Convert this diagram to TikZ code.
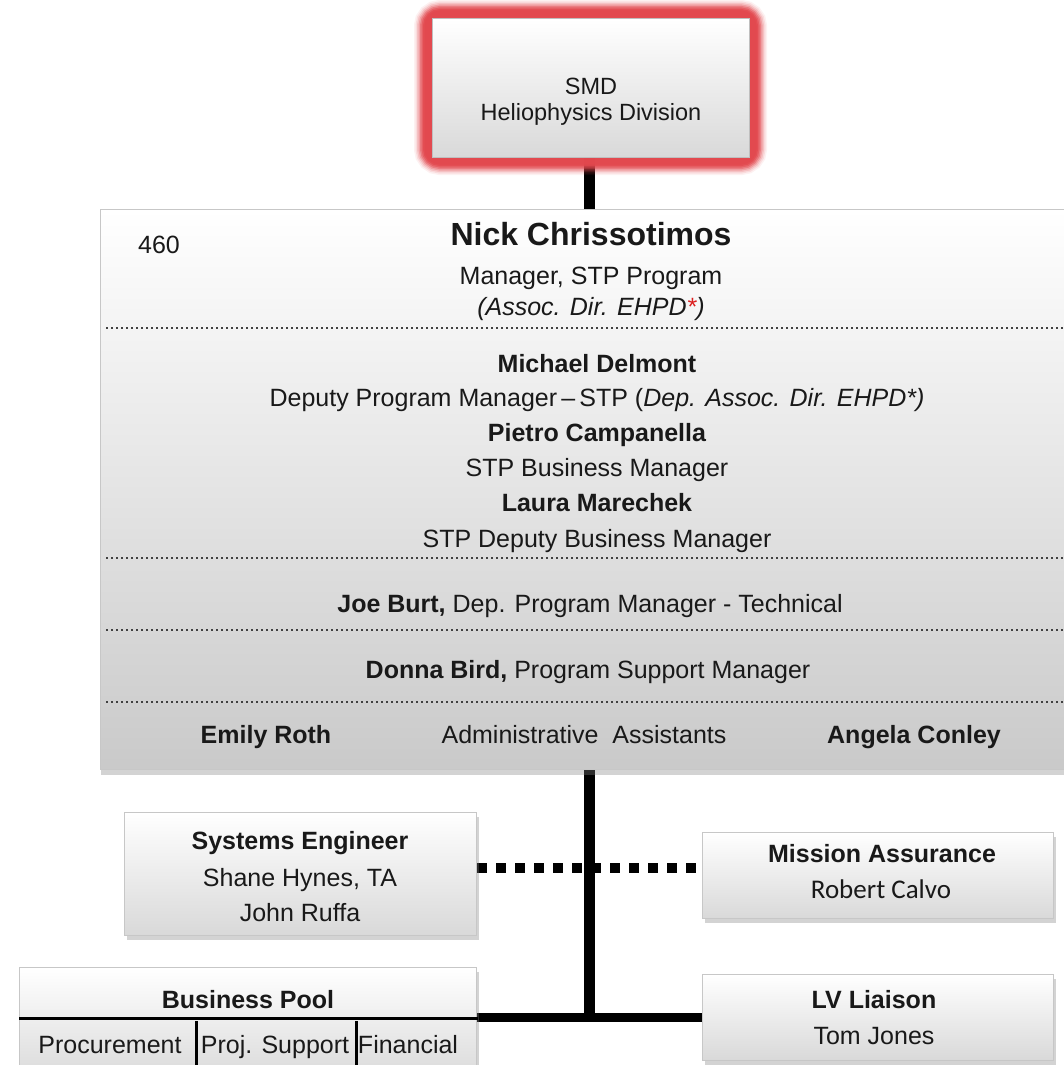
\documentclass[tikz,border=0pt]{standalone}
\usepackage{fontspec}
\setmainfont{Liberation Sans}
\newfontfamily\carl{Carlito}
\usetikzlibrary{shadows,calc}
\pgfdeclarelayer{bg}
\pgfsetlayers{bg,main}
\definecolor{glowred}{RGB}{226,72,78}
\definecolor{astred}{RGB}{220,30,30}
\newcommand\fs{\fontsize{25}{30}\selectfont}
\newcommand\fsbig{\fontsize{32}{38}\selectfont}
\newcommand\fssmd{\fontsize{23.5}{28}\selectfont}
\begin{document}
\begin{tikzpicture}[x=1pt,y=-1pt,
  txt/.style={anchor=base, inner sep=0pt, text=black!90, font=\fs},
  btxt/.style={anchor=base, inner sep=0pt, text=black!90, font=\fs\bfseries},
  bx/.style={draw=black!22, line width=1pt, top color=white, bottom color=black!15,
    anchor=north west, inner sep=0pt,
    drop shadow={shadow xshift=2pt, shadow yshift=-4pt, opacity=0.35}},
  conn/.style={line width=11pt, black},
  hconn/.style={line width=9pt, black},
  dotconn/.style={line width=10pt, black, dash pattern=on 10pt off 9pt},
  sep/.style={line width=2pt, black!75, dash pattern=on 2pt off 3pt}
]
\useasboundingbox (0,0) rectangle (1064,1065);

% ---------- SMD box with red glow ----------
\coordinate (smdnw) at (432,18);
\coordinate (smdse) at (749,157);
\foreach \w/\o in {28/0.08,25/0.12,22/0.18,19/0.28,16/0.4,13/0.55,10/0.75,7/0.9}{
  \draw[glowred, line width=\w pt, draw opacity=\o, rounded corners=12pt]
    ($(smdnw)+(-4,-4)$) rectangle ($(smdse)+(4,4)$);
}
\node[draw=black!25, line width=1pt, top color=white, bottom color=black!15,
      anchor=north west, inner sep=0pt, minimum width=317pt, minimum height=139pt]
      (smd) at (smdnw) {};
\node[txt, font=\fssmd] (smdA) at (591,94) {SMD};
\node[txt, font=\fssmd] (smdB) at (591,120) {Heliophysics Division};

% ---------- main box ----------
\node[draw=black!22, line width=1pt, top color=white, bottom color=black!21,
      anchor=north west, inner sep=0pt, minimum width=990pt, minimum height=560pt,
      drop shadow={shadow xshift=0pt, shadow yshift=-5pt, opacity=0.35}]
      (main) at (100,209) {};
\draw[sep] (106,328) -- (1080,328);
\draw[sep] (106,558) -- (1080,558);
\draw[sep] (106,630) -- (1080,630);
\draw[sep] (106,702) -- (1080,702);

\node[txt] (n460) at (159,253) {460};
\node[btxt, font=\fsbig\bfseries] (nick) at (591,245) {Nick Chrissotimos};
\node[txt] (mgr) at (591,284) {Manager, STP Program};
\node[txt] (assoc) at (591,315) {\itshape (Assoc. Dir. EHPD\textcolor{astred}{*})};
\node[btxt] (michael) at (597,372) {Michael Delmont};
\node[txt] (deputy) at (597,406) {Deputy Program Manager\,\textendash\,STP (\textit{Dep. Assoc. Dir. EHPD*)}};
\node[btxt] (pietro) at (597,441) {Pietro Campanella};
\node[txt] (stpbm) at (597,476) {STP Business Manager};
\node[btxt] (laura) at (597,511) {Laura Marechek};
\node[txt] (stpdbm) at (597,547) {STP Deputy Business Manager};
\node[txt] (joe) at (590,612) {\textbf{Joe Burt,} Dep. Program Manager - Technical};
\node[txt] (donna) at (588,678) {\textbf{Donna Bird,} Program Support Manager};
\node[btxt] (emily) at (266,743) {Emily Roth};
\node[txt] (admin) at (584,743) {Administrative\ \ Assistants};
\node[btxt] (angela) at (914,743) {Angela Conley};

% ---------- lower boxes ----------
\node[bx, minimum width=352pt, minimum height=123pt] (se) at (124,812) {};
\node[btxt] (seA) at (300,849) {Systems Engineer};
\node[txt] (seB) at (300,886) {Shane Hynes, TA};
\node[txt] (seC) at (300,921) {John Ruffa};

\node[bx, minimum width=351pt, minimum height=86pt] (ma) at (702,832) {};
\node[btxt] (maA) at (882,862) {Mission Assurance};
\node[txt, font=\fontsize{27}{32}\carl] (maB) at (881,898) {Robert Calvo};

\node[bx, minimum width=351pt, minimum height=86pt] (lv) at (702,974) {};
\node[btxt] (lvA) at (874,1008) {LV Liaison};
\node[txt] (lvB) at (874,1044) {Tom Jones};

\node[bx, minimum width=457pt, minimum height=115pt] (bp) at (19,967) {};
\node[btxt] (bpA) at (248,1008) {Business Pool};
\draw[line width=3pt] (19,1018) -- (478,1018);
\draw[line width=3pt] (196,1021) -- (196,1070);
\draw[line width=3pt] (356,1021) -- (356,1070);
\node[txt] (bpB) at (110,1053) {Procurement};
\node[txt] (bpC) at (275,1053) {Proj. Support};
\node[txt] (bpD) at (408,1053) {Financial};

% ---------- connectors ----------
\coordinate (vx) at (589,0);
\coordinate (dy) at (0,868);
\coordinate (hy) at (0,1017.5);
\coordinate (vend) at (589,1013);
\begin{pgfonlayer}{bg}
  \draw[conn] (smd.south -| vx) -- (main.north -| vx);
  \draw[dotconn] (se.east |- dy) -- (ma.west |- dy);
  \draw[conn] (main.south -| vx) -- (vend);
  \draw[hconn] (bp.east |- hy) -- (lv.west |- hy);
\end{pgfonlayer}
\end{tikzpicture}
\end{document}
